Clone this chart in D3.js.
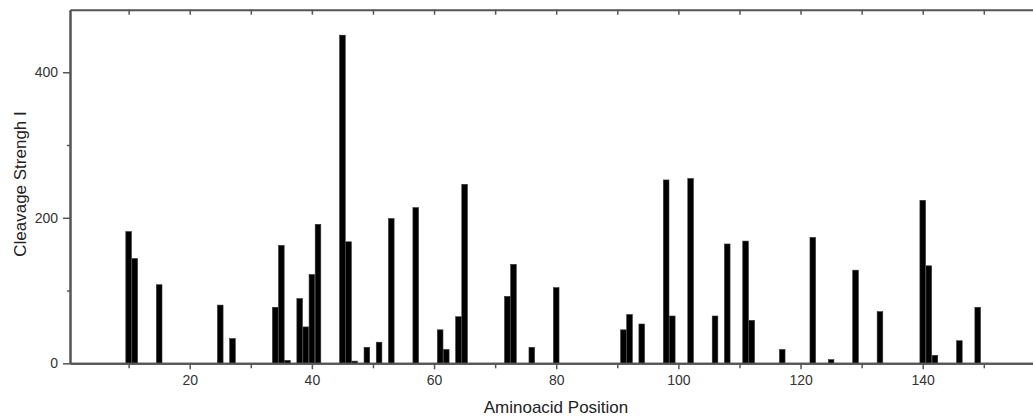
<!DOCTYPE html>
<meta charset="utf-8">
<style>
body{margin:0;background:#fff;}
text{font-family:"Liberation Sans",Arial,sans-serif;fill:#222;}
.axis path,.axis line{stroke:#555;}
.axis path{stroke-width:2px;}
.axis line{stroke-width:1.5px;}
.axis text{font-size:14px;fill:#333;}
</style>
<body>
<script src="https://d3js.org/d3.v7.min.js"></script>
<script>

// amino acid positions and cleavage strength
var positions=[10,11,15,25,27,34,35,36,38,39,40,41,45,46,47,49,51,53,57,61,62,64,65,72,73,76,80,91,92,94,98,99,102,106,108,111,112,117,122,125,129,133,140,141,142,146,149];
var strengths=[181,144,108,80,34,77,162,4,89,50,122,191,451,167,3,22,29,199,214,46,19,64,246,92,136,22,104,46,67,54,252,65,254,65,164,168,59,19,173,5,128,71,224,134,11,31,77];
var xTicks=[20,40,60,80,100,120,140];
var xMinor=[10,30,50,70,90,110,130,150];
var yTicks=[0,200,400];
var yMinor=[100,300];

var W=1033,H=418;
var svg=d3.select("body").append("svg").attr("width",W).attr("height",H);

var x=d3.scaleLinear().domain([0.4,159.2]).range([70,1040]);
var y=d3.scaleLinear().domain([0,486]).range([363.3,9.7]);
var bw=x(0.92)-x(0);

// bars
svg.append("g").selectAll("rect")
  .data(positions.map((p,i)=>({p:p,v:strengths[i]})))
  .enter().append("rect")
  .attr("x",d=>x(d.p)-bw/2)
  .attr("y",d=>y(d.v))
  .attr("width",bw)
  .attr("height",d=>y(0)-y(d.v))
  .attr("fill","#000")
  .attr("stroke","#333")
  .attr("stroke-width",0.6);

// bottom axis
svg.append("g").attr("class","axis").attr("transform","translate(0,"+y(0)+")")
  .call(d3.axisBottom(x).tickValues(xTicks).tickSizeInner(6).tickSizeOuter(0).tickPadding(6));
svg.append("g").attr("class","axis").attr("transform","translate(0,"+y(0)+")")
  .call(d3.axisBottom(x).tickValues(xMinor).tickSizeInner(5).tickSizeOuter(0).tickFormat(""));

// top frame, ticks inward
svg.append("g").attr("class","axis").attr("transform","translate(0,"+y.range()[1]+")")
  .call(d3.axisBottom(x).tickValues(xTicks.concat(xMinor)).tickSizeInner(5).tickSizeOuter(0).tickFormat(""));

// left axis
svg.append("g").attr("class","axis").attr("transform","translate("+x.range()[0]+",0)")
  .call(d3.axisLeft(y).tickValues(yTicks).tickSizeInner(7).tickSizeOuter(0).tickPadding(5));
svg.append("g").attr("class","axis").attr("transform","translate("+x.range()[0]+",0)")
  .call(d3.axisLeft(y).tickValues(yMinor).tickSizeInner(3).tickSizeOuter(0).tickFormat(""));

// axis titles
svg.append("text").attr("x",556).attr("y",413).attr("text-anchor","middle")
  .style("font-size","17px").text("Aminoacid Position");
svg.append("text").attr("transform","translate(26,184) rotate(-90)").attr("text-anchor","middle")
  .style("font-size","17px").text("Cleavage Strengh I");

</script>
</body>
</html>
